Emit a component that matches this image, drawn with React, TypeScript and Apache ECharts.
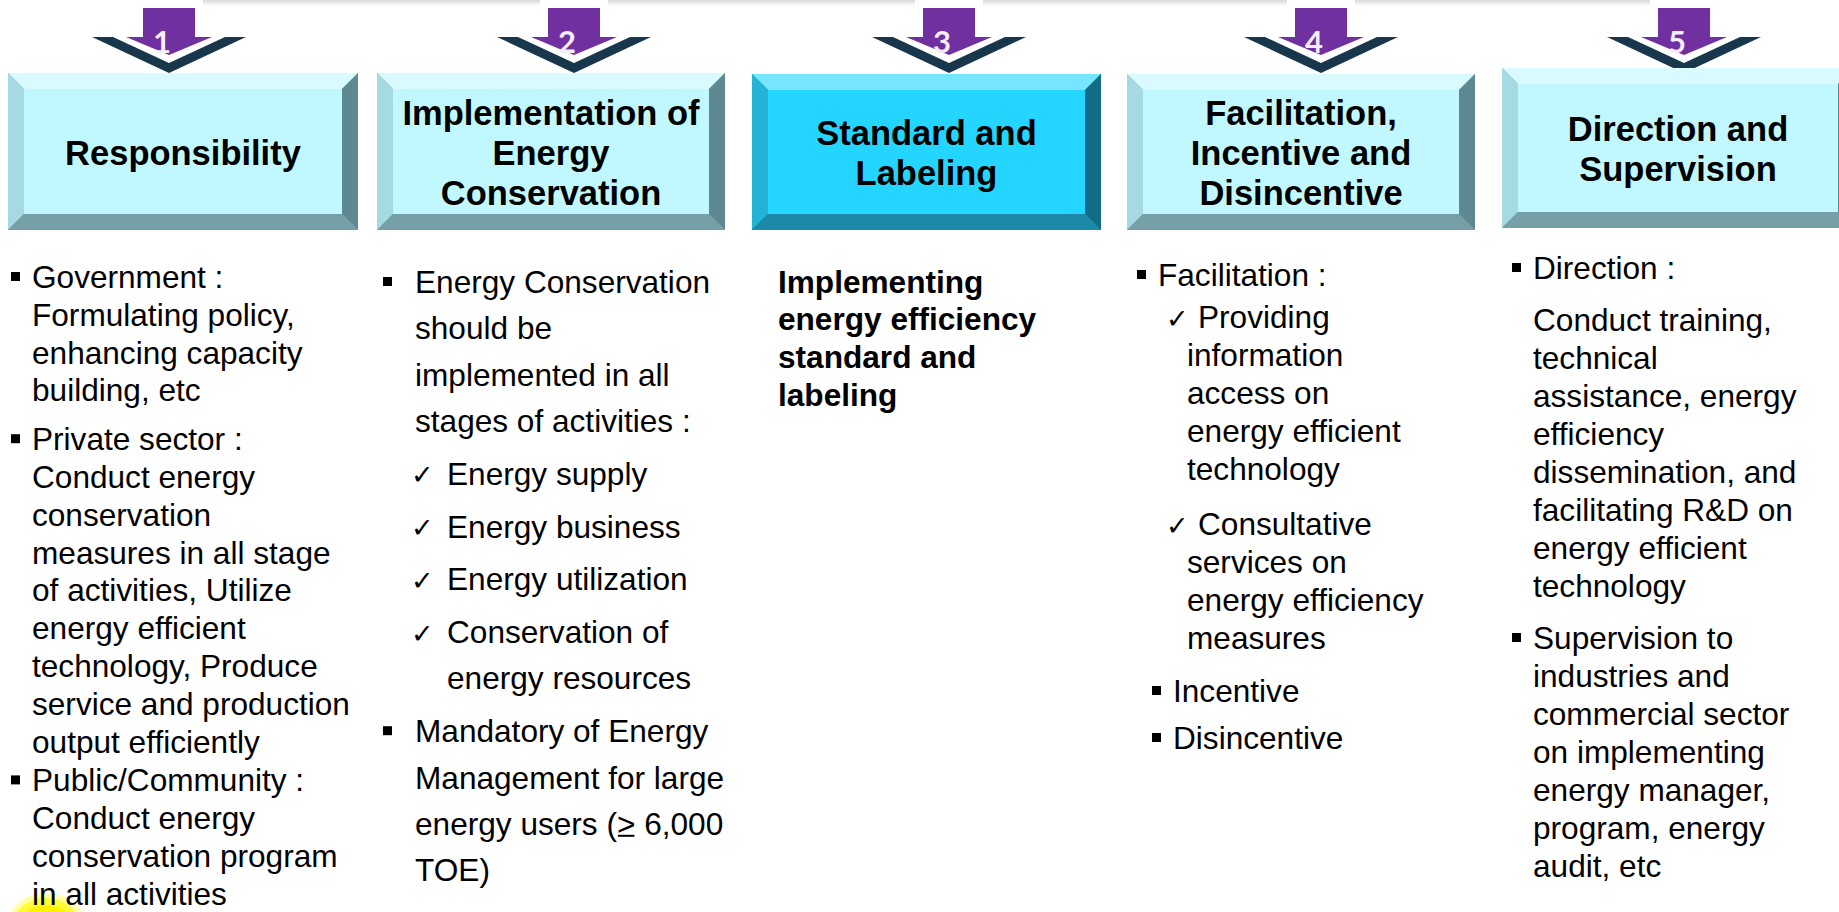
import React, { useEffect, useRef } from "react";
import * as echarts from "echarts";

// ---------- content ----------
const stepNumbers = ["1", "2", "3", "4", "5"];
const stepTitles = [
  "Responsibility",
  "Implementation of\nEnergy\nConservation",
  "Standard and\nLabeling",
  "Facilitation,\nIncentive and\nDisincentive",
  "Direction and\nSupervision",
];
const highlightedStep = 2;

type Marker = "bullet" | "check" | "none";
interface Entry {
  marker: Marker;
  lines: string[];
}

const responsibilityItems: Entry[] = [
  { marker: "bullet", lines: ["Government :", "Formulating policy,", "enhancing capacity", "building, etc"] },
  {
    marker: "bullet",
    lines: [
      "Private sector :",
      "Conduct energy",
      "conservation",
      "measures in all stage",
      "of activities, Utilize",
      "energy efficient",
      "technology, Produce",
      "service and production",
      "output efficiently",
    ],
  },
  { marker: "bullet", lines: ["Public/Community :", "Conduct energy", "conservation program", "in all activities"] },
];

const implementationItems: Entry[] = [
  { marker: "bullet", lines: ["Energy Conservation", "should be", "implemented in all", "stages of activities :"] },
  { marker: "check", lines: ["Energy supply"] },
  { marker: "check", lines: ["Energy business"] },
  { marker: "check", lines: ["Energy utilization"] },
  { marker: "check", lines: ["Conservation of", "energy resources"] },
  { marker: "bullet", lines: ["Mandatory of Energy", "Management for large", "energy users (> 6,000", "TOE)"] },
];
const underlinedToken = ">";

const standardItems: Entry[] = [
  { marker: "none", lines: ["Implementing", "energy efficiency", "standard and", "labeling"] },
];

const facilitationItems: Entry[] = [
  { marker: "bullet", lines: ["Facilitation :"] },
  { marker: "check", lines: ["Providing", "information", "access on", "energy efficient", "technology"] },
  { marker: "check", lines: ["Consultative", "services on", "energy efficiency", "measures"] },
  { marker: "bullet", lines: ["Incentive"] },
  { marker: "bullet", lines: ["Disincentive"] },
];

const directionItems: Entry[] = [
  { marker: "bullet", lines: ["Direction :"] },
  {
    marker: "none",
    lines: [
      "Conduct training,",
      "technical",
      "assistance, energy",
      "efficiency",
      "dissemination, and",
      "facilitating R&D on",
      "energy efficient",
      "technology",
    ],
  },
  {
    marker: "bullet",
    lines: [
      "Supervision to",
      "industries and",
      "commercial sector",
      "on implementing",
      "energy manager,",
      "program, energy",
      "audit, etc",
    ],
  },
];

const columns: Entry[][] = [
  responsibilityItems,
  implementationItems,
  standardItems,
  facilitationItems,
  directionItems,
];

// ---------- layout ----------
const W = 1839;
const H = 912;
const FONT = "Liberation Sans, Arial, Helvetica, sans-serif";
const TITLE_SIZE = 34.5;
const BODY_SIZE = 31.6;

const boxes = [
  { x: 8, y: 73, w: 350, h: 157 },
  { x: 377, y: 73, w: 348, h: 157 },
  { x: 752, y: 74, w: 349, h: 156 },
  { x: 1127, y: 74, w: 348, h: 156 },
  { x: 1502, y: 68, w: 352, h: 160 },
];
const arrowCenters = [169, 574, 949, 1321, 1684];

interface EntryLayout {
  markerX: number;
  textX: number;
  contX: number;
  gap: number;
}
interface ColLayout {
  y0: number;
  lh: number;
  bold?: boolean;
  entries: EntryLayout[];
}
const colLayouts: ColLayout[] = [
  {
    y0: 277,
    lh: 37.8,
    entries: [
      { markerX: 11, textX: 32, contX: 32, gap: 0 },
      { markerX: 11, textX: 32, contX: 32, gap: 11 },
      { markerX: 11, textX: 32, contX: 32, gap: 1 },
    ],
  },
  {
    y0: 282,
    lh: 46.3,
    entries: [
      { markerX: 383, textX: 415, contX: 415, gap: 0 },
      { markerX: 411, textX: 447, contX: 447, gap: 6.5 },
      { markerX: 411, textX: 447, contX: 447, gap: 6.5 },
      { markerX: 411, textX: 447, contX: 447, gap: 6.5 },
      { markerX: 411, textX: 447, contX: 447, gap: 6.5 },
      { markerX: 383, textX: 415, contX: 415, gap: 6.5 },
    ],
  },
  {
    y0: 281.5,
    lh: 37.8,
    bold: true,
    entries: [{ markerX: 778, textX: 778, contX: 778, gap: 0 }],
  },
  {
    y0: 275,
    lh: 38,
    entries: [
      { markerX: 1137, textX: 1158, contX: 1158, gap: 0 },
      { markerX: 1166, textX: 1198, contX: 1187, gap: 4 },
      { markerX: 1166, textX: 1198, contX: 1187, gap: 17 },
      { markerX: 1152, textX: 1173, contX: 1173, gap: 15 },
      { markerX: 1152, textX: 1173, contX: 1173, gap: 9 },
    ],
  },
  {
    y0: 268,
    lh: 38,
    entries: [
      { markerX: 1512, textX: 1533, contX: 1533, gap: 0 },
      { markerX: 1512, textX: 1533, contX: 1533, gap: 14 },
      { markerX: 1512, textX: 1533, contX: 1533, gap: 14 },
    ],
  },
];

const normalColors = { face: "#C1F8FF", top: "#D9FBFF", left: "#A6DAE3", right: "#5E8992", bottom: "#75A0A8" };
const highlightColors = { face: "#24D6FF", top: "#76E6FF", left: "#22B3D7", right: "#126C85", bottom: "#1A8AA8" };

function measure(text: string, font: string): number {
  const c = document.createElement("canvas").getContext("2d");
  if (!c) return text.length * 15;
  c.font = font;
  return c.measureText(text).width;
}

function bevelBox(x: number, y: number, w: number, h: number, b: number, c: typeof normalColors) {
  const els: any[] = [];
  els.push({ type: "rect", shape: { x, y, width: w, height: h }, style: { fill: c.bottom } });
  els.push({
    type: "polygon",
    shape: { points: [[x, y], [x + w, y], [x + w - b, y + b], [x + b, y + b]] },
    style: { fill: c.top },
  });
  els.push({
    type: "polygon",
    shape: { points: [[x, y], [x + b, y + b], [x + b, y + h - b], [x, y + h]] },
    style: { fill: c.left },
  });
  els.push({
    type: "polygon",
    shape: { points: [[x + w, y], [x + w, y + h], [x + w - b, y + h - b], [x + w - b, y + b]] },
    style: { fill: c.right },
  });
  els.push({
    type: "polygon",
    shape: { points: [[x, y + h], [x + b, y + h - b], [x + w - b, y + h - b], [x + w, y + h]] },
    style: { fill: c.bottom },
  });
  els.push({
    type: "rect",
    shape: { x: x + b, y: y + b, width: w - 2 * b, height: h - 2 * b },
    style: { fill: c.face },
  });
  return els;
}

function buildGraphic() {
  const els: any[] = [];

  // yellow highlight glow bottom-left
  els.push({ type: "circle", shape: { cx: 46, cy: 936, r: 43 }, style: { fill: "rgba(255,255,60,0.45)" } });
  els.push({ type: "circle", shape: { cx: 46, cy: 936, r: 38 }, style: { fill: "rgba(255,250,20,0.75)" } });
  els.push({ type: "circle", shape: { cx: 46, cy: 938, r: 33 }, style: { fill: "#FFF200" } });

  // faint top strip
  els.push({
    type: "rect",
    shape: { x: 203, y: 0, width: 1515, height: 6 },
    style: {
      fill: new echarts.graphic.LinearGradient(0, 0, 0, 1, [
        { offset: 0, color: "#D8D8D8" },
        { offset: 1, color: "#FFFFFF" },
      ]),
    },
  });

  // arrows
  arrowCenters.forEach((cx, i) => {
    els.push({ type: "rect", shape: { x: cx - 34, y: 0, width: 68, height: 37 }, style: { fill: "#FFFFFF" } });
    els.push({
      type: "polygon",
      shape: {
        points: [
          [cx - 77, 37],
          [cx - 56, 37],
          [cx, 63],
          [cx + 56, 37],
          [cx + 77, 37],
          [cx, 73],
        ],
      },
      style: { fill: "#18374D" },
    });
    els.push({
      type: "polygon",
      shape: {
        points: [
          [cx - 26, 8],
          [cx + 26, 8],
          [cx + 26, 37],
          [cx + 43, 37],
          [cx, 55],
          [cx - 43, 37],
          [cx - 26, 37],
        ],
      },
      style: { fill: "#7030A0" },
    });
    els.push({
      type: "text",
      style: {
        text: stepNumbers[i],
        x: cx - 7,
        y: 41,
        fill: "#F4EEFA",
        fontSize: 31,
        fontWeight: "bold",
        fontFamily: "Lato, Open Sans, sans-serif",
        align: "center",
        verticalAlign: "middle",
        textAlign: "center",
        textVerticalAlign: "middle",
      },
    });
  });

  // boxes with titles
  boxes.forEach((bx, i) => {
    const colors = i === highlightedStep ? highlightColors : normalColors;
    els.push(...bevelBox(bx.x, bx.y, bx.w, bx.h, 16, colors));
    els.push({
      type: "text",
      style: {
        text: stepTitles[i],
        x: bx.x + bx.w / 2,
        y: bx.y + bx.h / 2 + 1,
        fill: "#000000",
        fontSize: TITLE_SIZE,
        fontWeight: "bold",
        fontFamily: FONT,
        lineHeight: 40,
        align: "center",
        verticalAlign: "middle",
        textAlign: "center",
        textVerticalAlign: "middle",
      },
    });
  });

  // body text
  columns.forEach((entries, ci) => {
    const lay = colLayouts[ci];
    let y = lay.y0 - lay.lh;
    entries.forEach((entry, ei) => {
      const el = lay.entries[ei];
      entry.lines.forEach((line, li) => {
        y += lay.lh + (li === 0 ? el.gap : 0);
        if (li === 0 && entry.marker === "bullet") {
          els.push({
            type: "rect",
            shape: { x: el.markerX, y: y - 5, width: 9, height: 9 },
            style: { fill: "#000000" },
          });
        }
        if (li === 0 && entry.marker === "check") {
          els.push({
            type: "text",
            style: {
              text: "✓",
              x: el.markerX,
              y: y + 1,
              fill: "#000000",
              fontSize: 27,
              fontFamily: "DejaVu Sans, sans-serif",
              align: "left",
              verticalAlign: "middle",
              textAlign: "left",
              textVerticalAlign: "middle",
            },
          });
        }
        const tx = li === 0 ? el.textX : el.contX;
        const weight = lay.bold ? "bold" : "normal";
        els.push({
          type: "text",
          style: {
            text: line,
            x: tx,
            y,
            fill: "#000000",
            fontSize: BODY_SIZE,
            fontWeight: weight,
            fontFamily: FONT,
            align: "left",
            verticalAlign: "middle",
            textAlign: "left",
            textVerticalAlign: "middle",
          },
        });
        const k = line.indexOf("(" + underlinedToken);
        if (k >= 0) {
          const f = `${weight} ${BODY_SIZE}px ${FONT}`;
          const x0 = tx + measure(line.slice(0, k + 1), f);
          const x1 = x0 + measure(underlinedToken, f);
          els.push({
            type: "line",
            shape: { x1: x0 + 1, y1: y + 12, x2: x1 - 1, y2: y + 12 },
            style: { stroke: "#000000", lineWidth: 2 },
          });
        }
      });
    });
  });

  return els;
}

export default function App() {
  const ref = useRef<HTMLDivElement>(null);
  useEffect(() => {
    document.body.style.margin = "0";
    if (!ref.current) return;
    const chart = echarts.init(ref.current, undefined, { renderer: "svg" });
    chart.setOption({
      animation: false,
      backgroundColor: "#FFFFFF",
      graphic: { elements: buildGraphic() },
    });
    return () => chart.dispose();
  }, []);
  return <div ref={ref} style={{ width: W, height: H, overflow: "hidden" }} />;
}
